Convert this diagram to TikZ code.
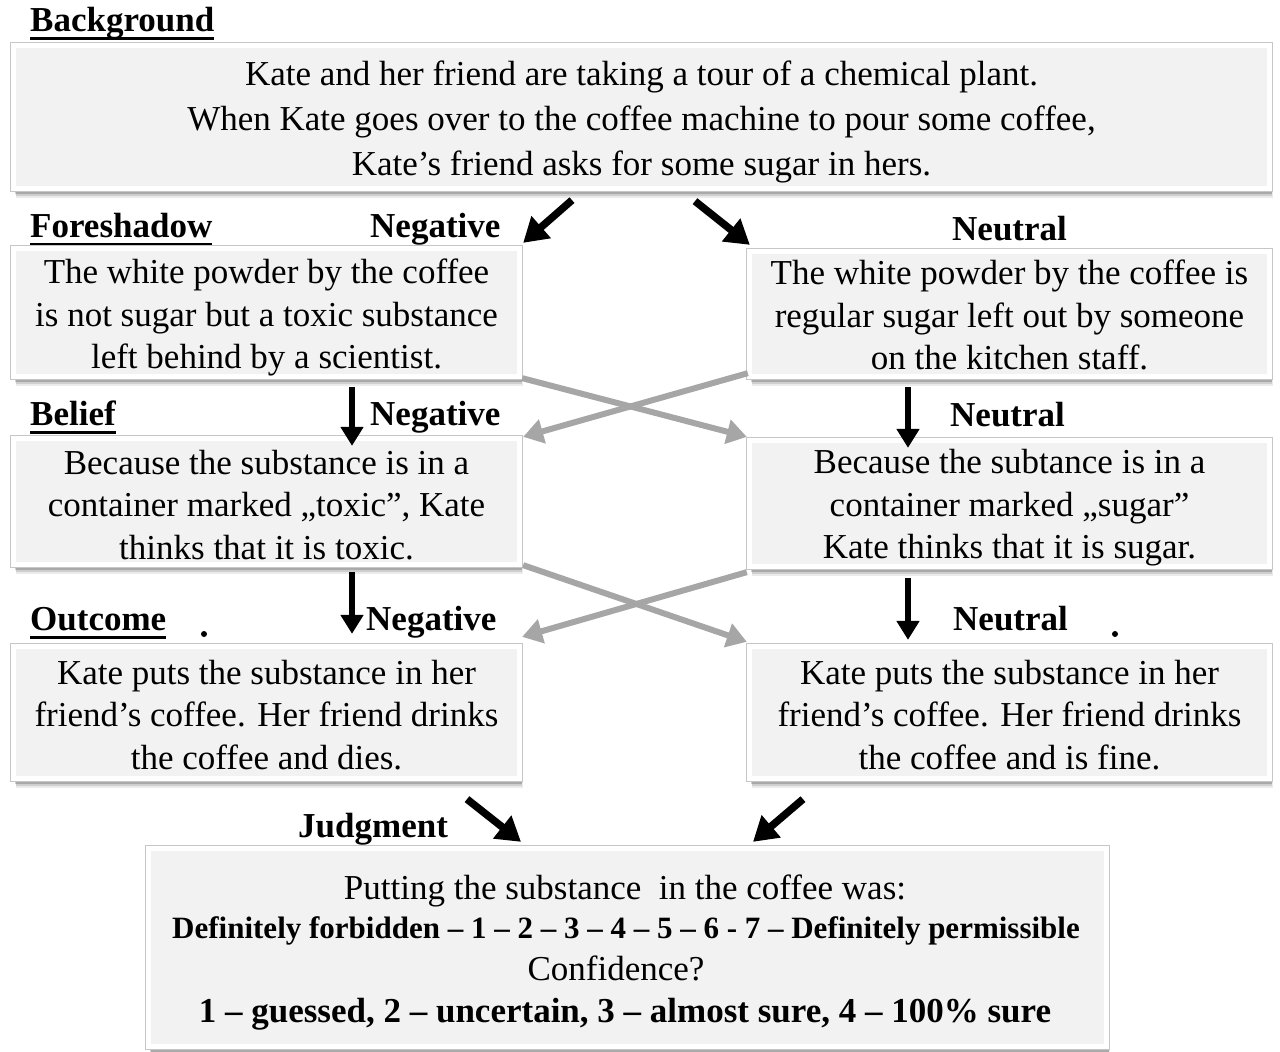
\documentclass[tikz,border=0pt]{standalone}
\usepackage{fontspec}
\setmainfont{Liberation Serif}
\usetikzlibrary{arrows.meta,shadows}
\newsavebox\hdbox
\newcommand{\hdul}[1]{\sbox\hdbox{#1}\rlap{\raisebox{-9pt}{\rule{\wd\hdbox}{3pt}}}\usebox\hdbox}
\newcommand{\dn}[1]{\rule{0pt}{#1pt}}
\begin{document}
\begin{tikzpicture}[x=1pt,y=-1pt,
  box/.style={draw=gray!45, line width=0.7pt, double=white, double distance=5pt,
    fill=black!5, inner sep=0pt, align=center,
    font=\fontsize{35}{42.5}\selectfont,
    drop shadow={shadow xshift=3pt, shadow yshift=-9pt, opacity=0.08, fill=black},
    drop shadow={shadow xshift=2.5pt, shadow yshift=-7pt, opacity=0.12, fill=black},
    drop shadow={shadow xshift=2pt, shadow yshift=-5.5pt, opacity=0.18, fill=black}},
  lab/.style={font=\bfseries\fontsize{35}{40}\selectfont, anchor=base west, inner sep=0pt},
  jtxt/.style={anchor=base, inner sep=0pt},
  blk/.style={line width=7.5pt, -{Triangle[length=24pt,width=28pt]}},
  vblk/.style={line width=5.5pt, -{Triangle[length=19pt,width=22pt]}},
  gry/.style={draw=black!35, line width=6pt, -{Triangle[length=20pt,width=24pt]}, fill=black!35}
]
\useasboundingbox (0,0) rectangle (1280,1052);

% labels
\node[lab] (lbg) at (30,31) {\hdul{Background}};
\node[lab] (lfs) at (30,237) {\hdul{Foreshadow}};
\node[lab] (lneg1) at (370,237) {Negative};
\node[lab] (lneu1) at (952,240) {Neutral};
\node[lab] (lbe) at (30,425) {\hdul{Belief}};
\node[lab] (lneg2) at (370,425) {Negative};
\node[lab] (lneu2) at (950,426) {Neutral};
\node[lab] (lout) at (30,630) {\hdul{Outcome}};
\node[lab] (lneg3) at (366,630) {Negative};
\node[lab] (lneu3) at (953,630) {Neutral};
\node[lab] (ljd) at (298,837) {Judgment};

% boxes
\node[box, font=\fontsize{35}{45}\selectfont, minimum width=1256.6pt, minimum height=143.6pt] (bg) at (641.5,117)
 {\dn{34}Kate and her friend are taking a tour of a chemical plant.\\
  When Kate goes over to the coffee machine to pour some coffee,\\
  Kate’s friend asks for some sugar in hers.};
\node[box, minimum width=506.6pt, minimum height=128.6pt] (fL) at (266.5,312.5)
 {\dn{35}The white powder by the coffee\\ is not sugar but a toxic substance\\ left behind by a scientist.};
\node[box, minimum width=520.6pt, minimum height=125.6pt] (fR) at (1009.5,314)
 {\dn{27}The white powder by the coffee is\\ regular sugar left out by someone\\ on the kitchen staff.};
\node[box, minimum width=506.6pt, minimum height=126.6pt] (bL) at (266.5,501.5)
 {\dn{31}Because the substance is in a\\ container marked „toxic”, Kate\\ thinks that it is toxic.};
\node[box, minimum width=520.6pt, minimum height=126.6pt] (bR) at (1009.5,503.5)
 {\dn{33}Because the subtance is in a\\ container marked „sugar”\\ Kate thinks that it is sugar.};
\node[box, minimum width=506.6pt, minimum height=132.6pt] (oL) at (266.5,712.5)
 {\dn{29}Kate puts the substance in her\\ friend’s coffee. Her friend drinks\\ the coffee and dies.};
\node[box, minimum width=520.6pt, minimum height=132.6pt] (oR) at (1009.5,712.5)
 {\dn{29}Kate puts the substance in her\\ friend’s coffee. Her friend drinks\\ the coffee and is fine.};
\node[box, minimum width=958.6pt, minimum height=198.6pt] (jd) at (627.5,947.5) {};

\node[jtxt, font=\fontsize{35}{40}\selectfont] (j1) at (625,899) {Putting the substance\ \ in the coffee was:};
\node[jtxt, font=\bfseries\fontsize{31}{36}\selectfont] (j2) at (626,938) {Definitely forbidden – 1 – 2 – 3 – 4 – 5 – 6 - 7 – Definitely permissible};
\node[jtxt, font=\fontsize{35}{40}\selectfont] (j3) at (616,980) {Confidence?};
\node[jtxt, font=\bfseries\fontsize{35}{40}\selectfont] (j4) at (625,1022) {1 – guessed, 2 – uncertain, 3 – almost sure, 4 – 100\% sure};

% black arrows
\draw[blk] ([shift={(-69.5,11)}]bg.south) -- ([shift={(3,-5)}]fL.north east);
\draw[blk] ([shift={(53.5,12)}]bg.south) -- ([shift={(1,-6)}]fR.north west);
\draw[vblk] ([shift={(85.5,10)}]fL.south) -- ([shift={(85.5,8)}]bL.north);
\draw[vblk] ([shift={(-101.5,10)}]fR.south) -- ([shift={(-101.5,8)}]bR.north);
\draw[vblk] ([shift={(85.5,7)}]bL.south) -- ([shift={(85.5,-12)}]oL.north);
\draw[vblk] ([shift={(-101.5,11)}]bR.south) -- ([shift={(-101.5,-6)}]oR.north);
\draw[blk] ([shift={(200.5,20)}]oL.south) -- ([shift={(-106.5,-6)}]jd.north);
\draw[blk] ([shift={(-206.5,20)}]oR.south) -- ([shift={(125.5,-6)}]jd.north);

% gray crossing arrows
\draw[gry] ([shift={(2,1)}]fL.south east) -- ([shift={(-2,-3)}]bR.north west);
\draw[gry] ([shift={(-1,-4)}]fR.south west) -- ([shift={(3,-1)}]bL.north east);
\draw[gry] ([shift={(3,0)}]bL.south east) -- ([shift={(-2,-4)}]oR.north west);
\draw[gry] ([shift={(-2,5)}]bR.south west) -- ([shift={(2,-9)}]oL.north east);

% stray dots
\fill (204,634) circle (3pt);
\fill (1115,634) circle (3pt);
\end{tikzpicture}
\end{document}
